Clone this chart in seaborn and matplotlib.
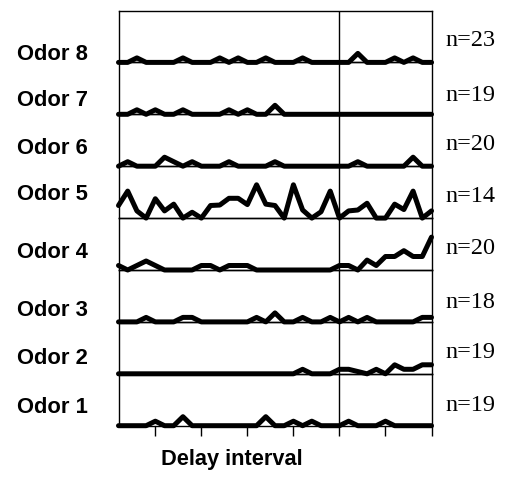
import numpy as np
import pandas as pd
import matplotlib
matplotlib.use("Agg")
import matplotlib.pyplot as plt
import seaborn as sns

# ---- data -------------------------------------------------------------
time_bins = list(range(1, 36))
odor_names = ["Odor 8", "Odor 7", "Odor 6", "Odor 5", "Odor 4", "Odor 3", "Odor 2", "Odor 1"]
n_labels = ["n=23", "n=19", "n=20", "n=14", "n=20", "n=18", "n=19", "n=19"]

odor8 = [0, 0, 1, 0, 0, 0, 0, 1, 0, 0, 0, 1, 0, 1, 0, 0, 1, 0, 0, 0, 1, 0, 0, 0, 0, 0, 2, 0, 0, 0, 1, 0, 1, 0, 0]
odor7 = [0, 0, 1, 0, 1, 0, 0, 1, 0, 0, 0, 0, 1, 0, 1, 0, 0, 2, 0, 0, 0, 0, 0, 0, 0, 0, 0, 0, 0, 0, 0, 0, 0, 0, 0]
odor6 = [0, 1, 0, 0, 0, 2, 1, 0, 1, 0, 0, 0, 1, 0, 0, 0, 0, 1, 0, 0, 0, 0, 0, 0, 0, 0, 1, 0, 0, 0, 0, 0, 2, 0, 0]
odor5 = [2.8, 6.0, 1.6, 0, 4.3, 1.6, 3.1, 0, 1.3, 0, 2.8, 2.9, 4.4, 4.4, 3.0, 7.4, 3.1, 2.8, 0, 7.4,
         1.8, 0, 1.4, 6.0, 0, 1.6, 1.8, 3.3, 0, 0, 3.1, 1.9, 6.0, 0, 1.6]
odor4 = [1, 0, 1, 2, 1, 0, 0, 0, 0, 1, 1, 0, 1, 1, 1, 0, 0, 0, 0, 0, 0, 0, 0, 0, 1, 1, 0, 2.2, 1, 3,
         3, 4.3, 3, 3, 7.3]
odor3 = [0, 0, 0, 1, 0, 0, 0, 1, 1, 0, 0, 0, 0, 0, 0, 1, 0, 2, 0, 0, 1, 0, 0, 1, 0, 1, 0, 1, 0, 0,
         0, 0, 0, 1, 1]
odor2 = [0, 0, 0, 0, 0, 0, 0, 0, 0, 0, 0, 0, 0, 0, 0, 0, 0, 0, 0, 0, 1, 0, 0, 0, 1, 1, 0.5, 0, 1, 0,
         2, 1, 1, 2, 2]
odor1 = [0, 0, 0, 0, 1, 0, 0, 2, 0, 0, 0, 0, 0, 0, 0, 0, 2, 0, 0, 1, 0, 1, 0, 0, 0, 1, 0, 0, 0, 1,
         0, 0, 0, 0, 0]

series = [odor8, odor7, odor6, odor5, odor4, odor3, odor2, odor1]
tick_positions = [5, 10, 15, 20, 25, 30, 35]
delay_boundary = 25

# ---- style -------------------------------------------------------------
sns.set_style("white")
plt.rcParams["font.family"] = ["Liberation Sans", "DejaVu Sans"]
plt.rcParams["text.color"] = "black"

W, H = 509, 486
fig = plt.figure(figsize=(W / 100, H / 100), dpi=100)

left_px, right_px = 118.5, 431.5
top_px, row_px = 10.5, 51.9
unit_px = 4.5

for j, (name, vals) in enumerate(zip(odor_names, series)):
    y_top = top_px + j * row_px
    ax = fig.add_axes([left_px / W, 1 - (y_top + row_px) / H,
                       (right_px - left_px) / W, row_px / H])
    df = pd.DataFrame({"bin": time_bins, "rate": vals})
    sns.lineplot(data=df, x="bin", y="rate", ax=ax, color="black", linewidth=3.6,
                 clip_on=False, zorder=5, solid_capstyle="round", solid_joinstyle="round")
    ax.axvline(delay_boundary, color="black", linewidth=1.0, zorder=2)
    ax.set_xlim(1, 35)
    ax.set_ylim(0, row_px / unit_px)
    ax.set_xlabel("")
    ax.set_ylabel("")
    ax.set_yticks([])
    for s in ["left", "right", "bottom", "top"]:
        ax.spines[s].set_visible(True)
        ax.spines[s].set_color("black")
        ax.spines[s].set_linewidth(1.0)
    if j < len(odor_names) - 1:
        ax.set_xticks([])
    else:
        ax.set_xticks(tick_positions)
        ax.set_xticklabels([])
        ax.tick_params(axis="x", direction="out", length=7.5, width=1.0, color="black",
                       bottom=True)
    ax.patch.set_alpha(0)

# row labels (left) and n labels (right)
odor_label_y = [55, 100, 148, 195, 252, 310, 358, 407]
n_label_y = [40, 95, 145, 197, 248, 302, 352, 405]
for name, yl in zip(odor_names, odor_label_y):
    fig.text(17 / W, 1 - yl / H, name, ha="left", va="center", fontsize=15.8,
             fontweight="bold", color="black", family=["Liberation Sans", "DejaVu Sans"])
for nl, yl in zip(n_labels, n_label_y):
    fig.text(445 / W, 1 - yl / H, nl, ha="left", va="center", fontsize=17.5,
             color="black", family=["Liberation Serif", "DejaVu Serif"])

fig.text(232 / W, 1 - 459 / H, "Delay interval", ha="center", va="center",
         fontsize=15.7, fontweight="bold", color="black",
         family=["Liberation Sans", "DejaVu Sans"])

fig.savefig("out.png", dpi=100, facecolor="white")
